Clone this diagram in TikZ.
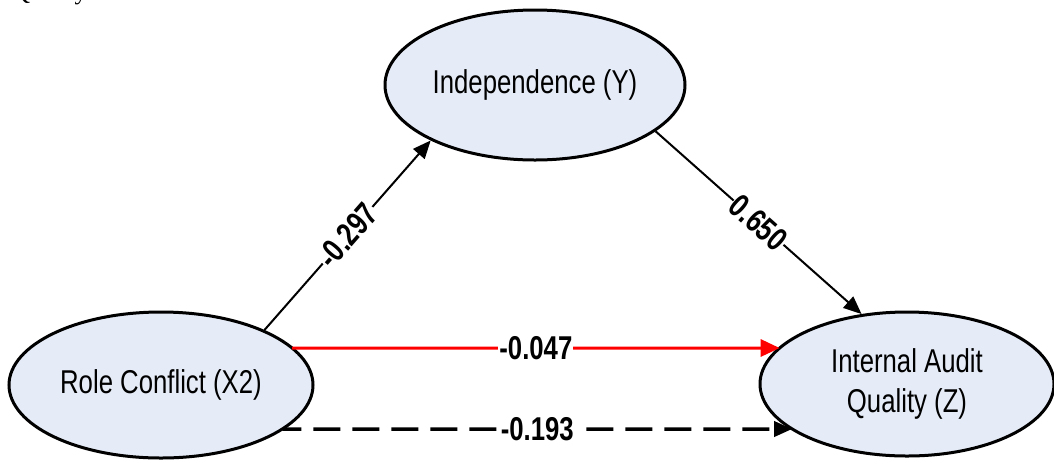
\documentclass[tikz,border=0pt]{standalone}
\usepackage{fontspec}
\setmainfont{Liberation Sans}[FakeStretch=0.78]
\newfontfamily\capfont{Liberation Serif}
\usetikzlibrary{shapes.geometric,arrows.meta,intersections}
\definecolor{ellfill}{RGB}{230,236,247}
\definecolor{redline}{RGB}{255,0,0}
\begin{document}
\begin{tikzpicture}[x=1pt,y=-1pt,
  latent/.style={draw=black, line width=3pt, fill=ellfill, ellipse, inner sep=0pt,
    font=\fontsize{33}{40}\selectfont, align=center},
  conn/.style={line width=2pt, -{Triangle[length=18pt,width=15pt]}},
  coef/.style={font=\bfseries\fontsize{33}{40}\selectfont, fill=white, inner sep=1pt, midway, sloped, text=black}
]
\useasboundingbox (0,0) rectangle (1054,459);
\clip (0,0) rectangle (1054,459);

% clipped caption remnant
\node[font=\capfont\fontsize{25}{30}\selectfont, anchor=base west, inner sep=0pt] (cap) at (12,-1) {Quality};

\node[latent, minimum width=300pt, minimum height=150pt, name path=Yp] (Y) at (535,85) {Independence (Y)};
\node[latent, minimum width=304pt, minimum height=146pt, name path=rcp] (rc) at (161,385) {Role Conflict (X2)};
\node[latent, minimum width=294pt, minimum height=144pt, name path=iaqp] (iaq) at (907,384) {Internal Audit\\Quality (Z)};

\path[name path=h1] (-100,348) -- (1200,348);
\path[name path=h2] (-100,429) -- (1200,429);
\path[name intersections={of=rcp and h1, sort by=h1, name=a}];
\path[name intersections={of=iaqp and h1, sort by=h1, name=b}];
\path[name intersections={of=rcp and h2, sort by=h2, name=c}];
\path[name intersections={of=iaqp and h2, sort by=h2, name=d}];

\draw[conn] (rc.28) -- node[coef]{-0.297} (Y.208);
\draw[conn] (Y.-21) -- node[coef]{0.650} (iaq.123);
\draw[conn, draw=redline, line width=3pt, -{Triangle[length=19pt,width=17pt,fill=redline]}] (a-2) -- node[coef, sloped=false]{-0.047} (b-1);
\draw[conn, line width=3.5pt, dash pattern=on 27pt off 12pt, dash phase=8pt] (c-2) -- node[coef, sloped=false]{-0.193} (d-1);
\end{tikzpicture}
\end{document}
